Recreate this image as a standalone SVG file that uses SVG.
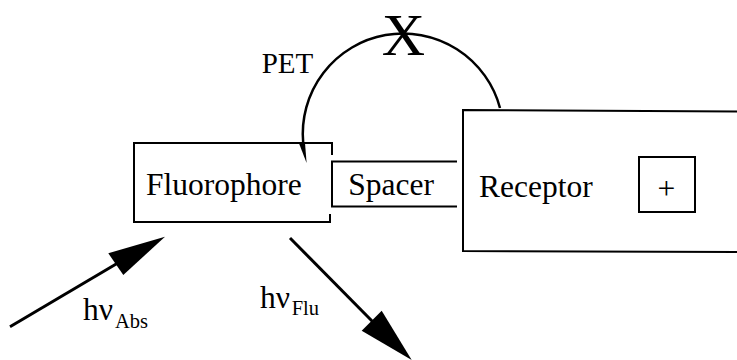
<svg xmlns="http://www.w3.org/2000/svg" width="737" height="360" viewBox="0 0 737 360">
<style>
.box{fill:none;stroke:#000;stroke-width:2}
.t{font-family:"Liberation Serif","Times New Roman",serif;fill:#000}
.lbl{font-size:31.5px}
.sub{font-size:20.5px}
.ln{fill:none;stroke:#000;stroke-width:3}
.arc{fill:none;stroke:#000;stroke-width:2.5}
.head{fill:#000;stroke:none}
</style>
<rect width="737" height="360" fill="#fff"/>
<g id="fluorophore">
  <path class="box" d="M332,155 V143 H134 V222 H330 V214"/>
  <text class="t lbl" x="146" y="195">Fluorophore</text>
</g>
<g id="spacer">
  <path class="box" d="M457,161.5 H332 V206.5 H457"/>
  <text class="t lbl" x="348.3" y="195">Spacer</text>
</g>
<g id="receptor">
  <path class="box" d="M738,111.5 L463,110 V251 L738,252"/>
  <text class="t lbl" x="479" y="197">Receptor</text>
</g>
<g id="charge">
  <rect class="box" x="639" y="157" width="56" height="55"/>
  <text class="t lbl" x="666.3" y="199" text-anchor="middle">+</text>
</g>
<g id="connectors">
  <path class="arc" d="M500,108 A100.3,100.3 0 0 0 303.2,143"/>
  <polygon class="head" points="298.5,142 305,143 306.6,163"/>
  <line class="ln" x1="10" y1="326.7" x2="117" y2="263.5"/>
  <polygon class="head" points="165,236.7 108.3,253.3 123.3,275"/>
  <line class="ln" x1="290" y1="238" x2="373" y2="322"/>
  <polygon class="head" points="411.7,360 361.7,330.7 381.7,310.7"/>
</g>
<g id="labels">
  <text class="t" x="261.7" y="73.3" font-size="29">PET</text>
  <text class="t" x="403.3" y="55" font-size="60" text-anchor="middle">X</text>
  <text class="t lbl" x="83" y="320">hν<tspan class="sub" x="115" y="328">Abs</tspan></text>
  <text class="t lbl" x="260" y="308.3">hν<tspan class="sub" x="291.7" y="315">Flu</tspan></text>
</g>
</svg>
